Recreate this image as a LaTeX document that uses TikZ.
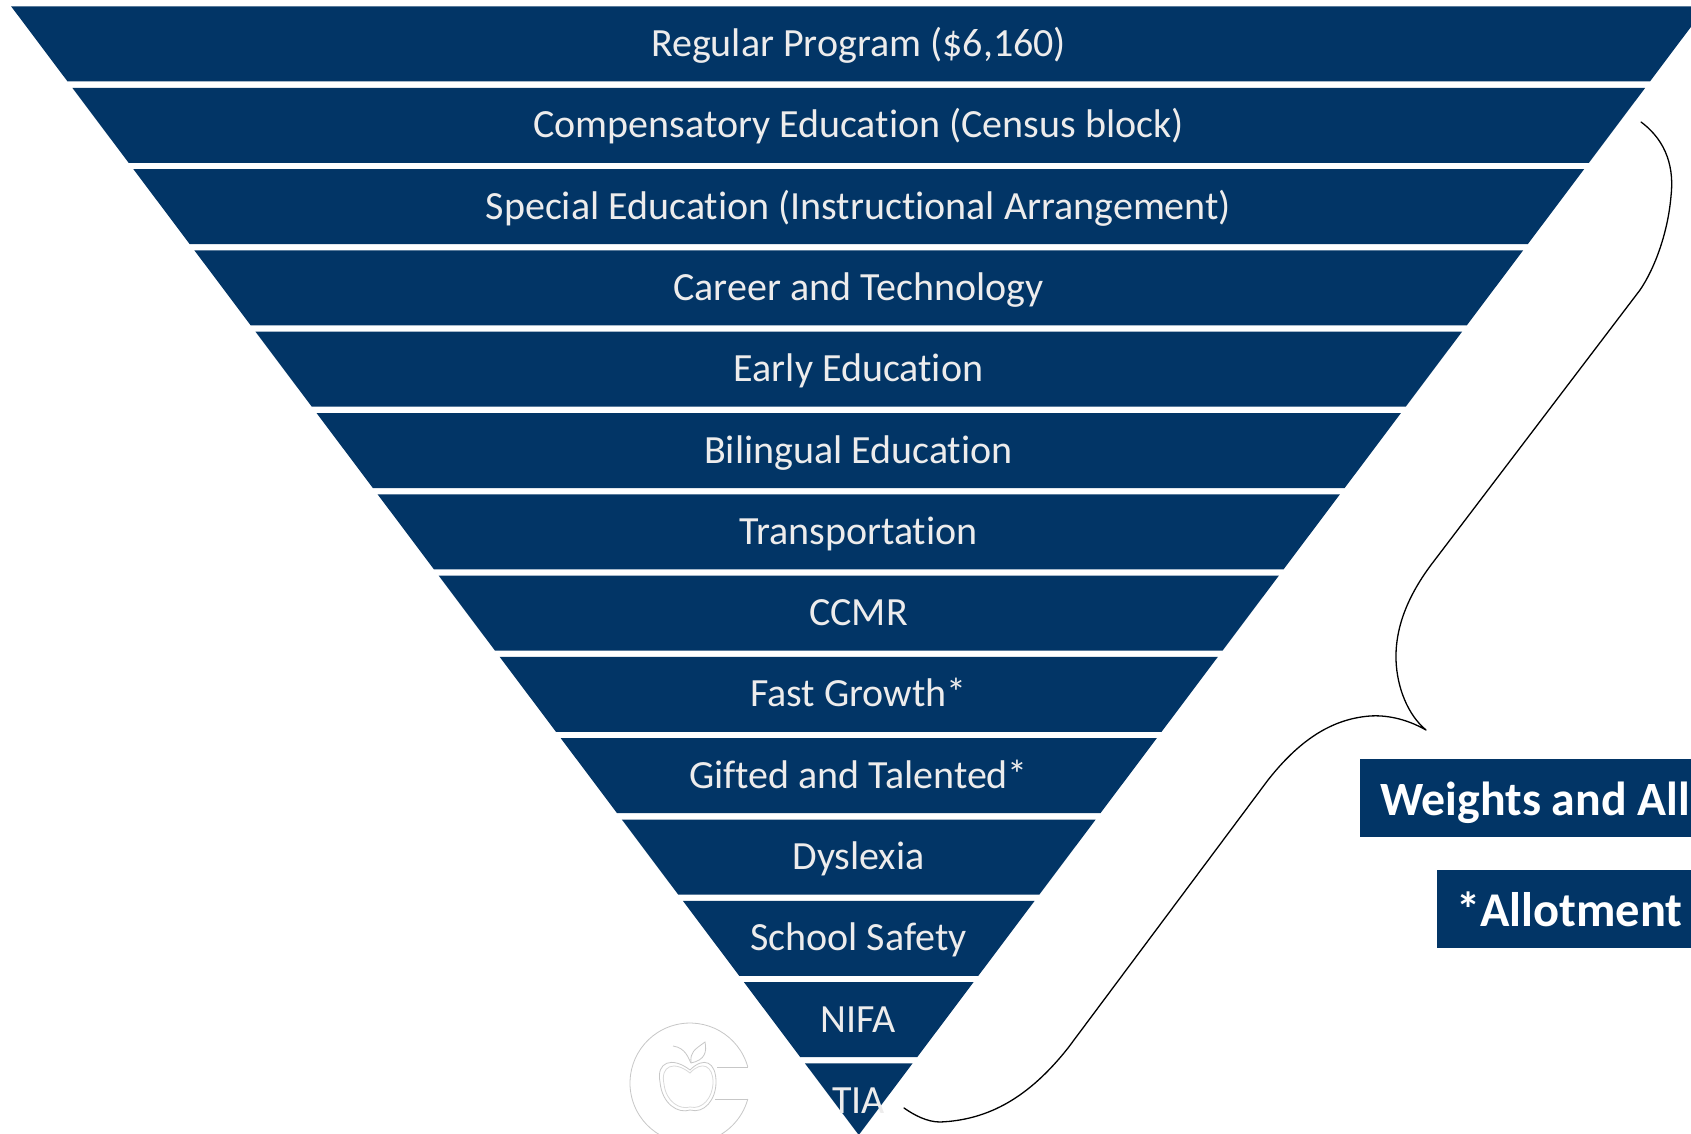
\documentclass[tikz,border=0pt]{standalone}
\usepackage{fontspec}
\setmainfont[RawFeature={-liga;-clig;-dlig}]{Carlito}
\definecolor{navy}{HTML}{023566}
\definecolor{bandtext}{HTML}{EDECEC}
\tikzset{
  bandfill/.style={fill=navy,draw=none},
  bandlabel/.style={text=bandtext,font=\fontsize{40}{44}\selectfont,anchor=base,inner sep=0pt},
  notebox/.style={fill=navy,draw=none},
  notelabel/.style={text=white,font=\fontsize{47.8}{52}\selectfont\bfseries,anchor=base west,inner sep=0pt},
  allotlabel/.style={text=white,font=\fontsize{48.5}{52}\selectfont\bfseries,anchor=base west,inner sep=0pt},
  bracket/.style={draw=black,line width=1.3pt,line cap=round,line join=round},
  logoline/.style={draw=black!22,line width=0.8pt}
}
\newcommand{\bandrow}[3]{% index, text, name
  \pgfmathsetmacro{\bt}{6.5+81.3*(#1)}
  \pgfmathsetmacro{\bb}{min(\bt+75,1134)}
  \pgfmathsetmacro{\tl}{858-0.751*(1134-\bt)}
  \pgfmathsetmacro{\tr}{859.5+0.751*(1134-\bt)}
  \pgfmathsetmacro{\bl}{858-0.751*(1134-\bb)}
  \pgfmathsetmacro{\br}{859.5+0.751*(1134-\bb)}
  \fill[bandfill] (\tl,\bt) -- (\tr,\bt) -- (\br,\bb) -- (\bl,\bb) -- cycle;
  \node[bandlabel] (#3) at (858.5,\bt+50) {#2};
}
\begin{document}
\begin{tikzpicture}[x=1pt,y=-1pt]
\useasboundingbox (0,0) rectangle (1691,1134);
\clip (0,0) rectangle (1691,1134);
\fill[white] (0,0) rectangle (1691,1134);
% faint logo
\draw[logoline] (747.8,1067) arc[start angle=-15.5,end angle=-344.5,radius=60];
\draw[logoline] (717,1067) -- (747.8,1067);
\draw[logoline] (715,1099) -- (747.8,1099);
\draw[logoline] (690,1070) .. controls (672,1056) and (656,1062) .. (660,1082) .. controls (662,1104) and (678,1114) .. (690,1110) .. controls (704,1114) and (716,1100) .. (716,1082) .. controls (716,1062) and (704,1056) .. (690,1070) -- cycle;
\draw[logoline,draw=black!15] (690,1073) .. controls (674,1060) and (660,1066) .. (664,1084) .. controls (666,1102) and (680,1110) .. (690,1107) .. controls (702,1110) and (713,1098) .. (713,1082) .. controls (713,1066) and (702,1060) .. (690,1073) -- cycle;
\draw[logoline] (691,1063) .. controls (688,1058) and (686,1048) .. (673,1046);
\draw[logoline] (691,1063) .. controls (690,1052) and (694,1050) .. (705,1042) .. controls (707,1052) and (705,1060) .. (691,1063);
\bandrow{0}{Regular Program (\$6,160)}{b0}
\bandrow{1}{Compensatory Education (Census block)}{b1}
\bandrow{2}{Special Education (Instructional Arrangement)}{b2}
\bandrow{3}{Career and Technology}{b3}
\bandrow{4}{Early Education}{b4}
\bandrow{5}{Bilingual Education}{b5}
\bandrow{6}{Transportation}{b6}
\bandrow{7}{CCMR}{b7}
\bandrow{8}{Fast Growth*}{b8}
\bandrow{9}{Gifted and Talented*}{b9}
\bandrow{10}{Dyslexia}{b10}
\bandrow{11}{School Safety}{b11}
\bandrow{12}{NIFA}{b12}
\bandrow{13}{TIA}{b13}
% brace
\coordinate (bstart) at (1641,122);
\coordinate (btip) at (1426,730);
\coordinate (bend) at (904,1108);
\draw[bracket] (bstart) .. controls (1668,142) and (1674,170) .. (1671,196)
  .. controls (1668,232) and (1655,268) .. (1640,290)
  -- (1434,561) .. controls (1410,592) and (1395,625) .. (1396,660)
  .. controls (1397,688) and (1408,715) .. (btip)
  .. controls (1405,718) and (1385,715) .. (1370,716)
  .. controls (1330,719) and (1298,742) .. (1268,780)
  -- (1068,1048) .. controls (1030,1096) and (990,1120) .. (940,1122)
  .. controls (927,1122) and (914,1115) .. (bend);
% note boxes
\fill[notebox] (1360,759) rectangle (1691,837);
\fill[notebox] (1437,870) rectangle (1691,948);
\node[notelabel] (weights) at (1380,815) {Weights and All};
\node[allotlabel] (allot) at (1456,926) {*Allotment};
\end{tikzpicture}
\end{document}
